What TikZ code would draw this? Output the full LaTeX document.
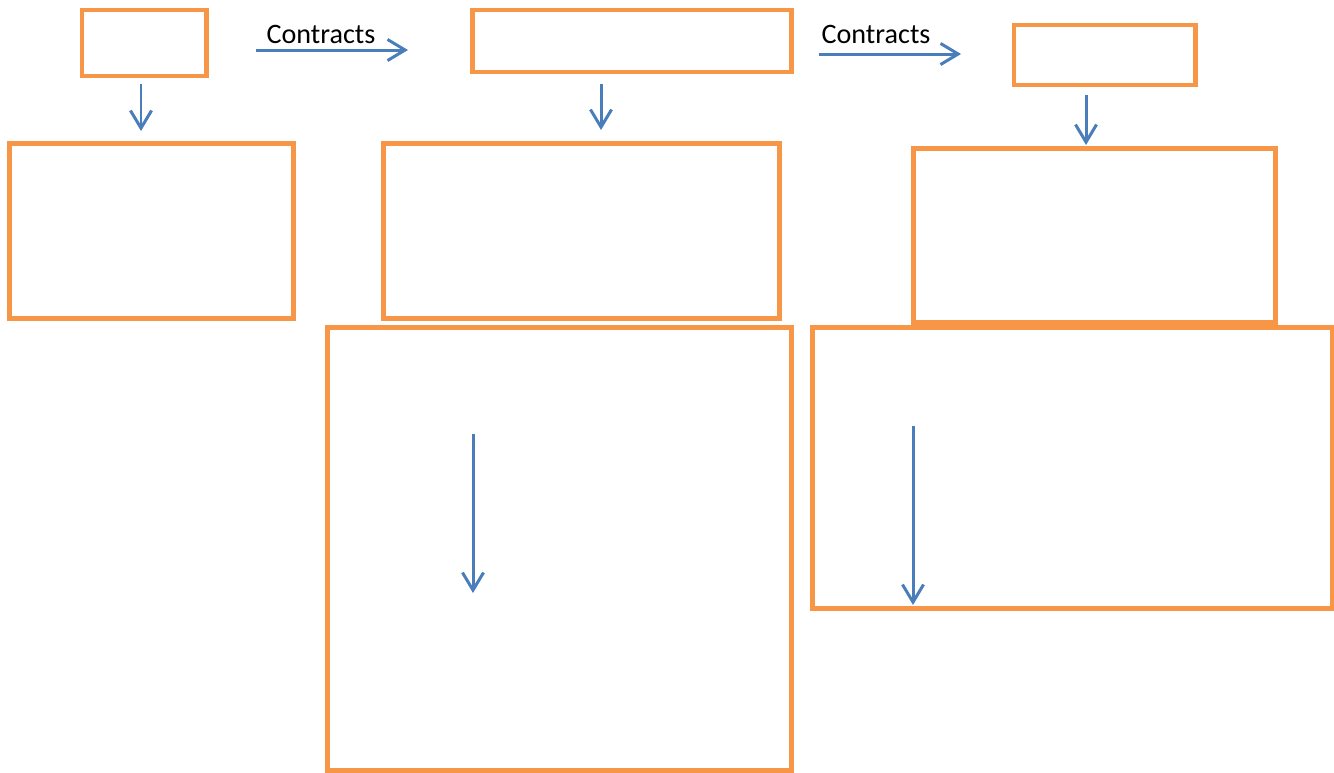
\documentclass[tikz,border=0pt]{standalone}
\usepackage{fontspec}
\setmainfont{Carlito}
\usetikzlibrary{arrows.meta}
\definecolor{boxorange}{HTML}{F79646}
\definecolor{arrowblue}{HTML}{4A7EBB}
\begin{document}
\begin{tikzpicture}[x=0.01cm, y=-0.01cm,
		box/.style={draw=boxorange, line width=1.4pt, inner sep=0pt},
		flow/.style={draw=arrowblue, line width=0.85pt, -{Straight Barb[length=5pt, width=6pt]}},
		lbl/.style={font=\fontsize{8}{10}\selectfont, inner sep=0pt}]
		\useasboundingbox (0,0) rectangle (1334,772);
		
		\node[box, minimum width=1.24cm, minimum height=0.66cm] (b1) at (144,43) {};
		\node[box, minimum width=2.83cm, minimum height=1.74cm] (b2) at (151.5,231) {};
		\node[box, minimum width=3.18cm, minimum height=0.62cm] (b3) at (632,41) {};
		\node[box, minimum width=3.95cm, minimum height=1.74cm] (b4) at (581.5,231) {};
		\node[box, minimum width=4.63cm, minimum height=4.42cm] (b5) at (559.5,549) {};
		\node[box, minimum width=1.81cm, minimum height=0.60cm] (b6) at (1104.5,55) {};
		\node[box, minimum width=3.61cm, minimum height=1.73cm] (b7) at (1094.5,235.5) {};
		\node[box, minimum width=5.19cm, minimum height=2.80cm] (b8) at (1072.5,468) {};
		
		\coordinate (a1s) at (141,84);
		\coordinate (a1e) at (141,131);
		\coordinate (c1s) at (256,50);
		\coordinate (c1e) at (408,50);
		\coordinate (a2s) at (601,84);
		\coordinate (a2e) at (601,130);
		\coordinate (c2s) at (819,54);
		\coordinate (c2e) at (961,54);
		\coordinate (a3s) at (1086,95);
		\coordinate (a3e) at (1086,145);
		\coordinate (a4s) at (473,434);
		\coordinate (a4e) at (473,593);
		\coordinate (a5s) at (913,426);
		\coordinate (a5e) at (913,605);
		
		\draw[flow] (a1s) -- (a1e);
		\draw[flow] (c1s) -- (c1e);
		\draw[flow] (a2s) -- (a2e);
		\draw[flow] (c2s) -- (c2e);
		\draw[flow] (a3s) -- (a3e);
		\draw[flow] (a4s) -- (a4e);
		\draw[flow] (a5s) -- (a5e);
		
		\node[lbl] (t1) at (321,34) {Contracts};
		\node[lbl] (t2) at (876,34) {Contracts};
		\end{tikzpicture}
\end{document}
